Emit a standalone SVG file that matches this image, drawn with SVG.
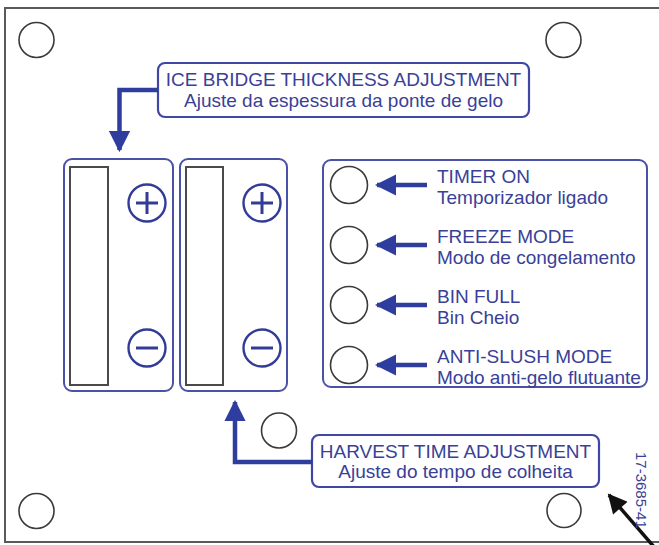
<svg xmlns="http://www.w3.org/2000/svg" width="659" height="545" viewBox="0 0 659 545">
<defs>
<style>
.hole{fill:none;stroke:#3a3a3a;stroke-width:1.6}
.panel{fill:#fff;stroke:#4a52a8;stroke-width:2}
.label{fill:#fff;stroke:#3f47a3;stroke-width:2.2}
.win{fill:#fff;stroke:#4a4a4a;stroke-width:2}
.btn{fill:none;stroke:#323c96;stroke-width:2.4}
.sym{stroke:#323c96;stroke-width:3;fill:none}
.wire{fill:none;stroke:#2f3d9e;stroke-width:4.5}
.t{font-family:"Liberation Sans",Arial,sans-serif;font-size:19px;fill:#3a3f98}
.tc{text-anchor:middle}
</style>
<marker id="ah" viewBox="0 0 10 10" refX="9" refY="5" markerWidth="4.8" markerHeight="4.8" orient="auto" markerUnits="strokeWidth">
<path d="M0,0 L10,5 L0,10 Z" fill="#2f3d9e"/>
</marker>
<marker id="ahk" viewBox="0 0 10 10" refX="9" refY="5" markerWidth="7" markerHeight="5.5" orient="auto" markerUnits="strokeWidth">
<path d="M0,0 L10,5 L0,10 Z" fill="#111"/>
</marker>
</defs>
<rect x="0" y="0" width="659" height="545" fill="#fff"/>
<path d="M661,8 H5 V542 H661" fill="none" stroke="#5a5a5a" stroke-width="2"/>
<g id="holes">
<circle class="hole" cx="36.5" cy="40" r="17.5"/>
<circle class="hole" cx="563.5" cy="40" r="17.5"/>
<circle class="hole" cx="36.5" cy="511" r="17.5"/>
<circle class="hole" cx="564" cy="510.5" r="17"/>
<circle class="hole" cx="279" cy="430.5" r="17.5"/>
</g>
<g id="panel-ice">
<rect class="panel" x="64" y="159" width="109" height="232" rx="8"/>
<rect class="win" x="70" y="167" width="38" height="218"/>
<circle class="btn" cx="147" cy="203" r="18.5"/>
<path class="sym" d="M136,203 H158 M147,192 V214"/>
<circle class="btn" cx="147" cy="348" r="18.5"/>
<path class="sym" d="M136,348 H158"/>
</g>
<g id="panel-harvest">
<rect class="panel" x="180" y="159" width="107" height="232" rx="8"/>
<rect class="win" x="186" y="167" width="37" height="218"/>
<circle class="btn" cx="262" cy="203" r="18.5"/>
<path class="sym" d="M251,203 H273 M262,192 V214"/>
<circle class="btn" cx="262" cy="348" r="18.5"/>
<path class="sym" d="M251,348 H273"/>
</g>
<g id="panel-leds">
<rect class="panel" x="323" y="160" width="324" height="227" rx="8"/>
<circle class="hole" cx="349" cy="185" r="18.5"/>
<circle class="hole" cx="349" cy="245" r="18.5"/>
<circle class="hole" cx="349" cy="305" r="18.5"/>
<circle class="hole" cx="349" cy="365" r="18.5"/>
<text class="t" x="437" y="183">TIMER ON</text>
<text class="t" x="437" y="204">Temporizador ligado</text>
<text class="t" x="437" y="243">FREEZE MODE</text>
<text class="t" x="437" y="264">Modo de congelamento</text>
<text class="t" x="437" y="303">BIN FULL</text>
<text class="t" x="437" y="324">Bin Cheio</text>
<text class="t" x="437" y="363">ANTI-SLUSH MODE</text>
<text class="t" x="437" y="384">Modo anti-gelo flutuante</text>
</g>
<g id="label-ice">
<rect class="label" x="158" y="63" width="371" height="54" rx="7"/>
<text class="t tc" x="343.5" y="86">ICE BRIDGE THICKNESS ADJUSTMENT</text>
<text class="t tc" x="343.5" y="107">Ajuste da espessura da ponte de gelo</text>
</g>
<g id="label-harvest">
<rect class="label" x="312" y="435" width="287" height="52" rx="7"/>
<text class="t tc" x="455.5" y="458">HARVEST TIME ADJUSTMENT</text>
<text class="t tc" x="455.5" y="478">Ajuste do tempo de colheita</text>
</g>
<g id="connectors">
<path class="wire" d="M158,90 H119.5 V150" marker-end="url(#ah)"/>
<path class="wire" d="M312,462 H235 V402" marker-end="url(#ah)"/>
<path class="wire" d="M427,185 H377" marker-end="url(#ah)"/>
<path class="wire" d="M427,245 H377" marker-end="url(#ah)"/>
<path class="wire" d="M427,305 H377" marker-end="url(#ah)"/>
<path class="wire" d="M427,365 H377" marker-end="url(#ah)"/>
<path d="M655,548 L609,495" fill="none" stroke="#111" stroke-width="3.5" marker-end="url(#ahk)"/>
</g>
<text x="636" y="452" transform="rotate(90 636 452)" style="font-family:'Liberation Sans',Arial,sans-serif;font-size:15px;fill:#3a3f98">17-3685-41</text>
</svg>
